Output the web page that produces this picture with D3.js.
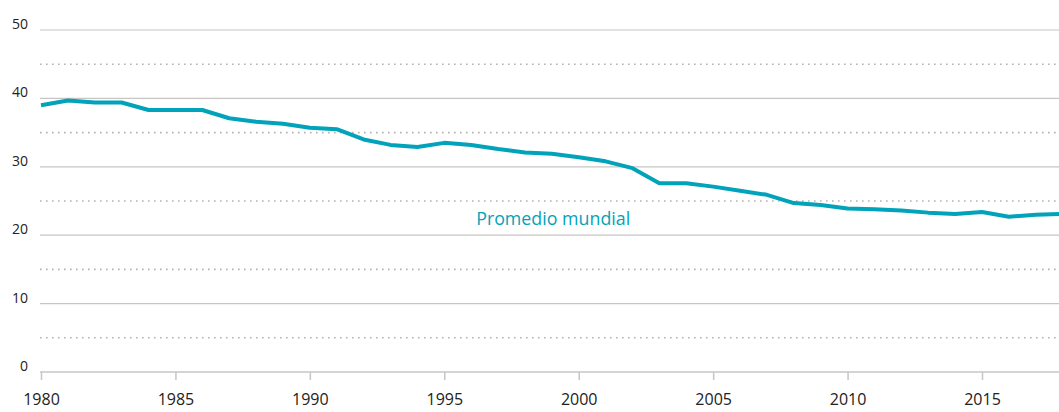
<!DOCTYPE html>
<html>
<head>
<meta charset="utf-8">
<script src="https://cdn.jsdelivr.net/npm/d3@7"></script>
<style>
  body { margin: 0; background: #fff; }
  svg { display: block; font-family: "Open Sans", sans-serif; }
</style>
</head>
<body>
<div id="chart"></div>
<script>
// data
var years = d3.range(1980, 2019);
var values = [39.0, 39.7, 39.4, 39.4, 38.3, 38.3, 38.3, 37.1, 36.6, 36.3,
              35.7, 35.5, 34.0, 33.2, 32.9, 33.5, 33.2, 32.6, 32.1, 31.9,
              31.4, 30.8, 29.8, 27.6, 27.6, 27.1, 26.5, 25.9, 24.7, 24.4,
              23.9, 23.8, 23.6, 23.3, 23.1, 23.4, 22.7, 23.0, 23.1];
var yTicks = [0, 10, 20, 30, 40, 50];
var yDotted = [5, 15, 25, 35, 45];
var xTicks = [1980, 1985, 1990, 1995, 2000, 2005, 2010, 2015];
var seriesLabel = "Promedio mundial";

var W = 1059, H = 412;
var margin = {top: 30, left: 41, bottom: 40};

var svg = d3.select("#chart").append("svg")
    .attr("width", W)
    .attr("height", H);

var x = d3.scaleLinear()
    .domain([1980, 2015])
    .range([margin.left, 982]);

var y = d3.scaleLinear()
    .domain([0, 50])
    .range([H - margin.bottom, margin.top]);

// solid grid lines
svg.append("g").selectAll("line")
    .data(yTicks.filter(function(d) { return d > 0; }))
    .enter().append("line")
    .attr("x1", margin.left - 1).attr("x2", W)
    .attr("y1", function(d) { return y(d); })
    .attr("y2", function(d) { return y(d); })
    .attr("stroke", "#c9c5c2")
    .attr("stroke-width", 1.2);

// dotted half lines
svg.append("g").selectAll("line")
    .data(yDotted)
    .enter().append("line")
    .attr("x1", margin.left - 1).attr("x2", W)
    .attr("y1", function(d) { return y(d); })
    .attr("y2", function(d) { return y(d); })
    .attr("stroke", "#b4b2b0")
    .attr("stroke-width", 1.6)
    .attr("stroke-dasharray", "1.6,4.4");

// y labels
svg.append("g").selectAll("text")
    .data(yTicks)
    .enter().append("text")
    .attr("x", 28)
    .attr("y", function(d) { return y(d) - 1; })
    .attr("text-anchor", "end")
    .attr("font-size", 14)
    .attr("fill", "#222")
    .text(function(d) { return d; });

// x axis
var xAxis = svg.append("g")
    .attr("transform", "translate(0," + y(0) + ")")
    .call(d3.axisBottom(x).tickValues(xTicks).tickFormat(d3.format("d"))
        .tickSize(8).tickPadding(14));
xAxis.select(".domain").remove();
xAxis.append("line")
    .attr("x1", margin.left - 1).attr("x2", W)
    .attr("stroke", "#c9c5c2").attr("stroke-width", 1.5);
xAxis.selectAll(".tick line").attr("stroke", "#c9c5c2").attr("stroke-width", 1.5);
xAxis.selectAll(".tick text")
    .attr("font-size", 16)
    .attr("font-family", "Open Sans, sans-serif")
    .attr("fill", "#222");

// the line
var line = d3.line()
    .x(function(d, i) { return x(years[i]); })
    .y(function(d) { return y(d); });

svg.append("path")
    .datum(values)
    .attr("fill", "none")
    .attr("stroke", "#00a3ba")
    .attr("stroke-width", 4)
    .attr("stroke-linejoin", "round")
    .attr("d", line);

// series label
svg.append("text")
    .attr("x", x(1999.05))
    .attr("y", y(21.5))
    .attr("text-anchor", "middle")
    .attr("font-size", 19)
    .attr("textLength", 154)
    .attr("lengthAdjust", "spacingAndGlyphs")
    .attr("fill", "#00a3ba")
    .text(seriesLabel);
</script>
</body>
</html>
